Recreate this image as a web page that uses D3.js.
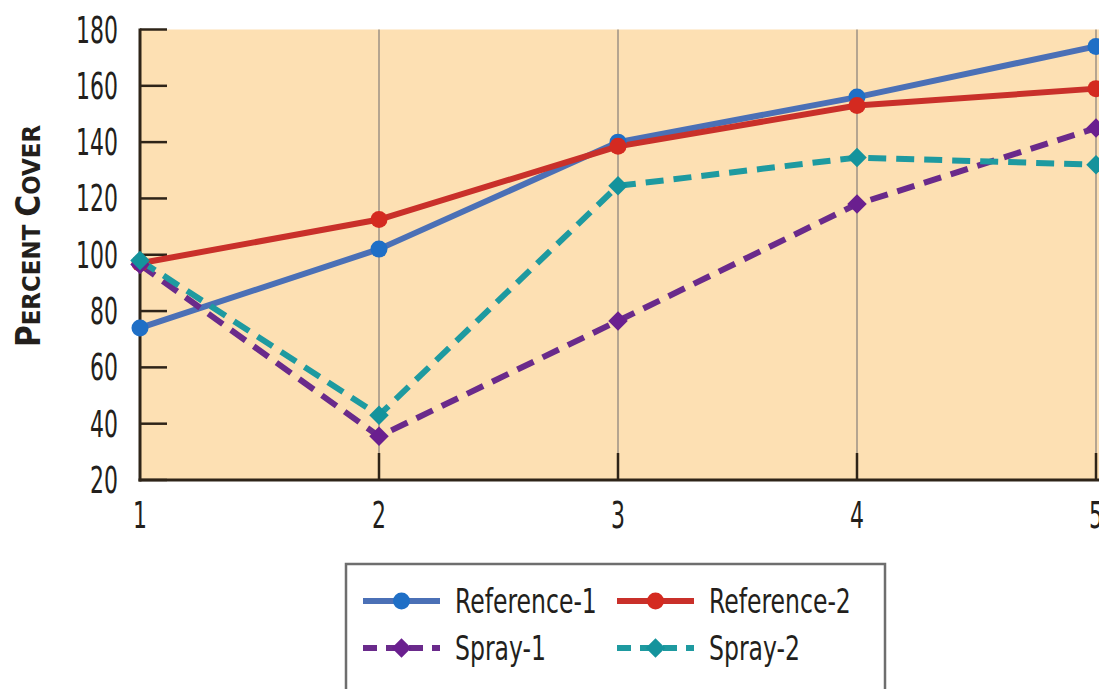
<!DOCTYPE html>
<html><head><meta charset="utf-8">
<script src="https://cdn.jsdelivr.net/npm/d3@7"></script>
<style>
html,body{margin:0;padding:0;background:#fff;overflow:hidden}
text{font-family:"Liberation Sans Narrow","DejaVu Sans Condensed",sans-serif;fill:#231f1c}
</style></head>
<body>
<svg id="chart" width="1099" height="689"></svg>
<script>
const categories = [1, 2, 3, 4, 5];
const xTickLabels = ["1", "2", "3", "4", "5"];
const yTicks = [20, 40, 60, 80, 100, 120, 140, 160, 180];
const reference1 = [74, 102, 140, 156, 174];
const reference2 = [97, 112.5, 138.5, 153, 159];
const spray1 = [96.5, 35.5, 76.5, 118, 145];
const spray2 = [98, 43, 124.5, 134.5, 132];
const seriesNames = ["Reference-1", "Reference-2", "Spray-1", "Spray-2"];

const series = [
  {name: seriesNames[0], values: reference1, line: "#4b70b6", mark: "#1f6fc6", dash: null, shape: "circle"},
  {name: seriesNames[1], values: reference2, line: "#c9302a", mark: "#d42a20", dash: null, shape: "circle"},
  {name: seriesNames[2], values: spray1, line: "#6a2a8b", mark: "#6a1f8f", dash: "18,10", shape: "diamond"},
  {name: seriesNames[3], values: spray2, line: "#1e9aa0", mark: "#14939c", dash: "18,10", shape: "diamond"}
];

const svg = d3.select("#chart");
const L = 140, R = 1096, T = 29.5, B = 480;
const x = d3.scaleLinear().domain([1, 5]).range([L, R]);
const y = d3.scaleLinear().domain([20, 180]).range([B, T]);
const dark = "#2e2418";

// background
svg.append("rect").attr("x", L).attr("y", T).attr("width", 1099 - L).attr("height", B - T).attr("fill", "#fde0b3");

// vertical grid lines
svg.append("g").selectAll("line").data(categories.slice(1)).join("line")
  .attr("x1", d => x(d)).attr("x2", d => x(d)).attr("y1", T).attr("y2", B)
  .attr("stroke", "#9c9284").attr("stroke-width", 1.5);

// inner ticks on x axis
svg.append("g").selectAll("line").data(categories.slice(1)).join("line")
  .attr("x1", d => x(d)).attr("x2", d => x(d)).attr("y1", B - 27).attr("y2", B)
  .attr("stroke", dark).attr("stroke-width", 2.5);

// inner ticks on y axis
svg.append("g").selectAll("line").data(yTicks).join("line")
  .attr("x1", L).attr("x2", L + 27).attr("y1", d => y(d)).attr("y2", d => y(d))
  .attr("stroke", dark).attr("stroke-width", 2.5);

// axis lines
svg.append("line").attr("x1", L).attr("x2", L).attr("y1", T - 1).attr("y2", B + 1.5)
  .attr("stroke", dark).attr("stroke-width", 3);
svg.append("line").attr("x1", L - 1.5).attr("x2", 1099).attr("y1", B).attr("y2", B)
  .attr("stroke", dark).attr("stroke-width", 3);

// y tick labels (condensed)
const sx = 0.66;
svg.append("g").selectAll("text").data(yTicks).join("text")
  .attr("transform", d => `translate(118,${y(d) + 13}) scale(${sx},1)`)
  .attr("text-anchor", "end").attr("font-size", 37).text(d => d);

// x tick labels
svg.append("g").selectAll("text").data(categories).join("text")
  .attr("transform", (d, i) => `translate(${x(d)},${528}) scale(${sx},1)`)
  .attr("text-anchor", "middle").attr("font-size", 37).text((d, i) => xTickLabels[i]);

// y axis title
const yt = svg.append("text")
  .attr("transform", "translate(40,236) rotate(-90)")
  .attr("text-anchor", "middle").attr("font-weight", "bold").attr("font-size", 33);
yt.append("tspan").text("P");
yt.append("tspan").attr("font-size", 25.5).text("ERCENT ");
yt.append("tspan").text("C");
yt.append("tspan").attr("font-size", 25.5).text("OVER");

// lines
const line = d3.line().x((d, i) => x(categories[i])).y(d => y(d));
const diamond = d3.symbol().type(d3.symbolSquare).size(190);

series.forEach(s => {
  svg.append("path").datum(s.values).attr("d", line)
    .attr("fill", "none").attr("stroke", s.line).attr("stroke-width", 6)
    .attr("stroke-dasharray", s.dash).attr("stroke-linejoin", "round");
});
series.forEach(s => {
  const g = svg.append("g");
  if (s.shape === "circle") {
    g.selectAll("circle").data(s.values).join("circle")
      .attr("cx", (d, i) => x(categories[i])).attr("cy", d => y(d)).attr("r", 8.5)
      .attr("fill", s.mark);
  } else {
    g.selectAll("path").data(s.values).join("path")
      .attr("transform", (d, i) => `translate(${x(categories[i])},${y(d)}) rotate(45)`)
      .attr("d", diamond).attr("fill", s.mark);
  }
});

// legend
svg.append("rect").attr("x", 346).attr("y", 564).attr("width", 539).attr("height", 140)
  .attr("fill", "#fff").attr("stroke", "#6e6e6e").attr("stroke-width", 2.5);
const legPos = [[363, 601], [617, 601], [363, 648], [617, 648]];
series.forEach((s, i) => {
  const [lx, ly] = legPos[i];
  const g = svg.append("g").attr("transform", `translate(${lx},${ly})`);
  g.append("line").attr("x1", 0).attr("x2", 77).attr("y1", 0).attr("y2", 0)
    .attr("stroke", s.line).attr("stroke-width", 6).attr("stroke-dasharray", s.dash ? "14,9" : null);
  if (s.shape === "circle") g.append("circle").attr("cx", 38.5).attr("cy", 0).attr("r", 8.5).attr("fill", s.mark);
  else g.append("path").attr("transform", "translate(38.5,0) rotate(45)").attr("d", diamond).attr("fill", s.mark);
  g.append("text").attr("transform", `translate(92,12) scale(0.77,1)`)
    .attr("font-size", 34).text(s.name);
});
</script>
</body></html>
